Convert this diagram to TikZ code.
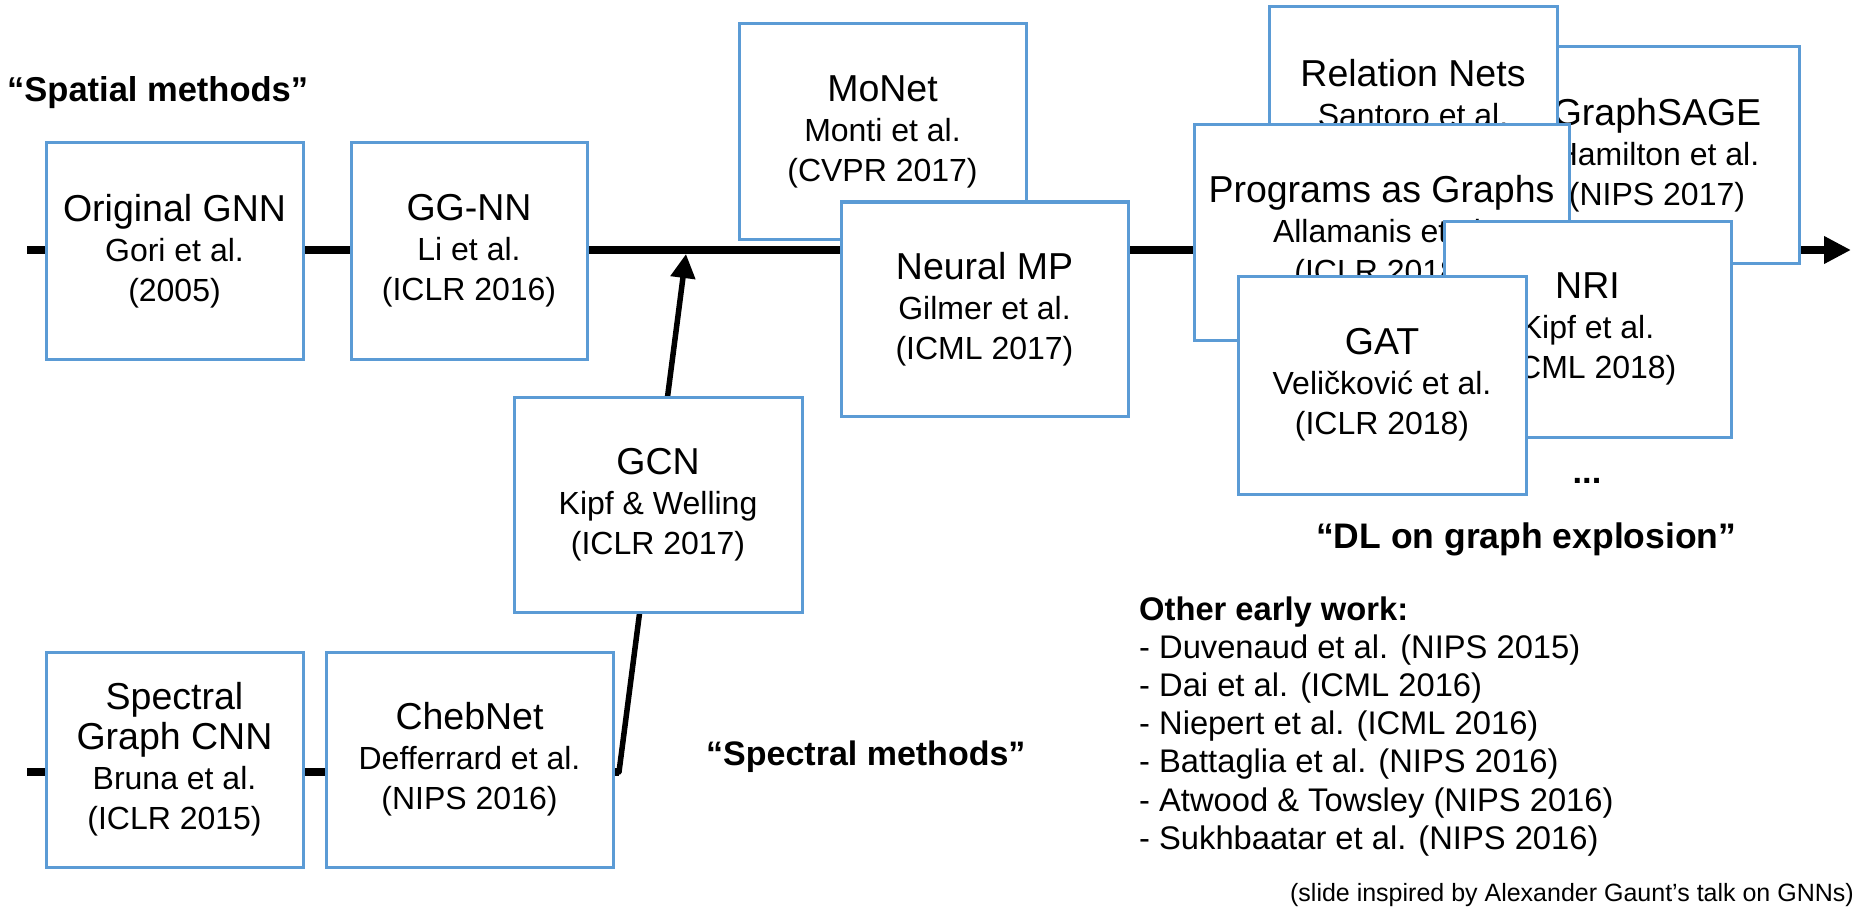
\documentclass[tikz,border=0pt]{standalone}
\usepackage{fontspec}
\setmainfont{Liberation Sans}
\usepackage{xcolor}
\usetikzlibrary{arrows.meta}
\definecolor{boxblue}{RGB}{91,155,213}

\tikzset{
  paper/.style={draw=boxblue, line width=3pt, fill=white, inner sep=0pt,
    align=center, minimum height=216pt, font=\fontsize{32}{40}\selectfont},
  lbl/.style={anchor=base west, inner sep=0pt, font=\bfseries\fontsize{34.5}{40}\selectfont},
  listline/.style={anchor=base west, inner sep=0pt, font=\fontsize{32.7}{38}\selectfont},
}
\newcommand{\ttl}[1]{{\fontsize{37.5}{40}\selectfont #1}}

\begin{document}
\begin{tikzpicture}[line join=miter, x=1pt, y=-1pt]
\useasboundingbox (0,0) rectangle (1862,912);
% the two time lines
\coordinate (spA) at (27,250);
\coordinate (spB) at (1851,250);
\coordinate (scA) at (27,772);
\coordinate (scB) at (619,772);
\coordinate (join) at (686,254);
\draw [line width=7.5pt, -{Triangle[length=27pt, width=26pt]}] (spA) -- (spB);
\draw [line width=7.5pt] (scA) -- (scB);
\draw [line width=5.5pt, line cap=round, -{Triangle[length=24pt, width=24pt]}] (scB) -- (join);
% spatial
\node[paper, minimum width=257pt] (ognn) at (174.5,251) {\ttl{Original GNN}\\Gori et al.\\(2005)};
\node[paper, minimum width=236pt] (ggnn) at (469,251) {\ttl{GG-NN}\\Li et al.\\(ICLR 2016)};
\node[paper, minimum width=287pt, minimum height=215pt] (monet) at (882.5,131.5) {\ttl{MoNet}\\Monti et al.\\(CVPR 2017)};
\node[paper, minimum width=287pt, minimum height=214pt] (nmp) at (984.5,309) {\ttl{Neural MP}\\Gilmer et al.\\(ICML 2017)};
% spectral
\node[paper, minimum width=257pt, minimum height=215pt] (sgcnn) at (174.5,759.5) {\ttl{Spectral}\\\ttl{Graph CNN}\\Bruna et al.\\(ICLR 2015)};
\node[paper, minimum width=287pt, minimum height=215pt] (cheb) at (469.5,759.5) {\ttl{ChebNet}\\Defferrard et al.\\(NIPS 2016)};
\node[paper, minimum width=288pt, minimum height=215pt] (gcn) at (658,504.5) {\ttl{GCN}\\Kipf \& Welling\\(ICLR 2017)};
% explosion
\node[paper, minimum width=284pt] (sage) at (1657,155) {\ttl{GraphSAGE}\\Hamilton et al.\\(NIPS 2017)};
\node[paper, minimum width=288pt, minimum height=218pt] (relnet) at (1413,116) {\ttl{Relation Nets}\\Santoro et al.\\(NIPS 2017)};
\node[paper, minimum width=375pt, minimum height=215pt] (prog) at (1381.5,232.5) {\ttl{Programs as Graphs}\\Allamanis et al.\\(ICLR 2018)};
\node[paper, minimum width=287pt] (nri) at (1587.5,329) {\ttl{NRI}\\Kipf et al.\\(ICML 2018)};
\node[paper, minimum width=288pt, minimum height=218pt] (gat) at (1382,385) {\ttl{GAT}\\Veličković et al.\\(ICLR 2018)};
\node[lbl, anchor=base] (more) at (1587,483) {...};
% captions
\node[lbl] (spatial) at (7,102) {“Spatial methods”};
\node[lbl, font=\bfseries\fontsize{34}{40}\selectfont] (spectral) at (706,765) {“Spectral methods”};
\node[lbl, font=\bfseries\fontsize{35.5}{40}\selectfont] (boom) at (1316,548) {“DL on graph explosion”};
% other early work
\node[listline, font=\bfseries\fontsize{32.7}{38}\selectfont] (early) at (1139,620) {Other early work:};
\foreach \w [count=\i] in {Duvenaud et al. (NIPS 2015), Dai et al. (ICML 2016),
    Niepert et al. (ICML 2016), Battaglia et al. (NIPS 2016),
    Atwood \& Towsley (NIPS 2016), Sukhbaatar et al. (NIPS 2016)}
  \node[listline] (early\i) at (1139,{620+38.2*\i}) {- \w};
\node[anchor=base east, inner sep=0pt, font=\fontsize{25}{30}\selectfont] (credit) at (1854,901) {(slide inspired by Alexander Gaunt’s talk on GNNs)};
\end{tikzpicture}
\end{document}
